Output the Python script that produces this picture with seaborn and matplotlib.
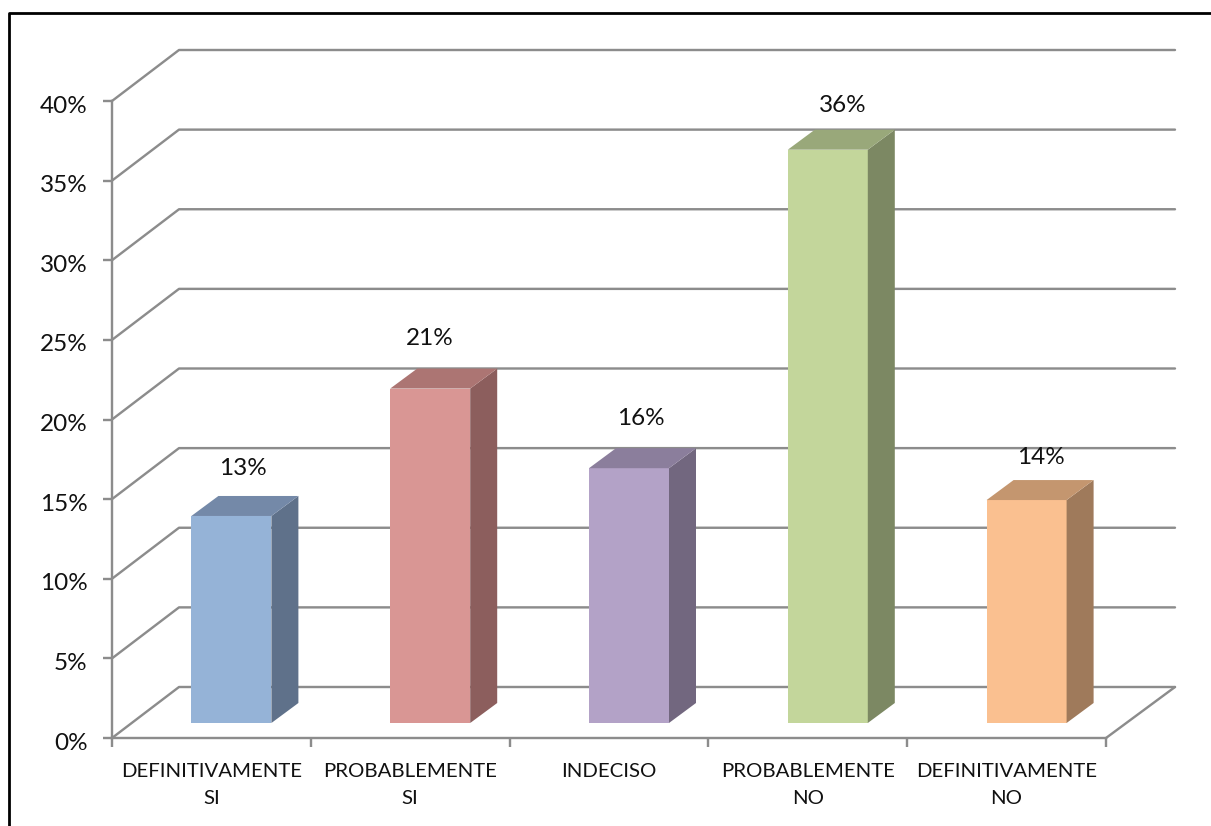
import matplotlib
matplotlib.use("Agg")
import matplotlib.pyplot as plt
from matplotlib.lines import Line2D
from matplotlib.patches import Polygon
from matplotlib.transforms import ScaledTranslation
import pandas as pd
import seaborn as sns

categories = ["DEFINITIVAMENTE\nSI", "PROBABLEMENTE\nSI", "INDECISO",
              "PROBABLEMENTE\nNO", "DEFINITIVAMENTE\nNO"]
values = [13, 21, 16, 36, 14]
front_colors = ["#95B3D7", "#D99694", "#B3A2C7", "#C3D69B", "#FAC090"]
side_colors = ["#5F718A", "#8C5E5D", "#72677F", "#7C8863", "#9F7A5B"]
top_colors = ["#7489A8", "#AC7573", "#8B7E9C", "#99A87A", "#C4966F"]
y_ticks = [0, 5, 10, 15, 20, 25, 30, 35, 40]

W, H = 1211, 826
L, R, B, T = 112, 1106, 738, 101
px_x = (R - L) / 5
px_y = (B - T) / 40
GRID = "#8C8C8C"

sns.set_theme(style="white")
plt.rcParams["font.family"] = ["Lato", "DejaVu Sans"]

fig = plt.figure(figsize=(W / 100, H / 100), dpi=100, facecolor="white")
ax = fig.add_axes([L / W, 1 - B / H, (R - L) / W, (B - T) / H])
ax.patch.set_alpha(0)

df = pd.DataFrame({"cat": categories, "val": values})
sns.barplot(data=df, x="cat", y="val", hue="cat", palette=front_colors, legend=False,
            width=80 / px_x, saturation=1, ax=ax, zorder=3, linewidth=0)
ax.set_xlim(-0.5, 4.5)
ax.set_ylim(0, 40)

# depth of the chart floor and of the bars
dx, dy = 67 / px_x, 51 / px_y
bx, by = 27 / px_x, 20 / px_y
shift_x, shift_y = 20 / px_x, 15 / px_y
x0, x1 = -0.5, 4.5
back_end = x1 + 69 / px_x
lw = 2.4 * 72 / 100

# walls: back gridlines and diagonals
for v in y_ticks:
    ax.plot([x0, x0 + dx, back_end], [v, v + dy, v + dy], color=GRID, lw=lw,
            clip_on=False, zorder=1, solid_joinstyle="round")
ax.plot([x1, back_end], [0, dy], color=GRID, lw=lw, clip_on=False, zorder=1)

# label offsets from the bar's centre/top, in pixels
label_dx = [12, 0, 12, 15, 14]
label_dy = [47, 50, 50, 44, 43]

bars = list(ax.patches)
for i, bar in enumerate(bars):
    bar.set_x(bar.get_x() + shift_x)
    bar.set_y(bar.get_y() + shift_y)
    bar.set_clip_on(False)
    xa, xb = bar.get_x(), bar.get_x() + bar.get_width()
    yb, yt = bar.get_y(), bar.get_y() + bar.get_height()
    ax.add_patch(Polygon([(xb, yb), (xb + bx, yb + by), (xb + bx, yt + by), (xb, yt)],
                         closed=True, fc=side_colors[i], ec="none", zorder=3, clip_on=False))
    ax.add_patch(Polygon([(xa, yt), (xa + bx, yt + by), (xb + bx, yt + by), (xb, yt)],
                         closed=True, fc=top_colors[i], ec="none", zorder=3, clip_on=False))
    ax.text((xa + xb) / 2 + label_dx[i] / px_x, yt + label_dy[i] / px_y, f"{values[i]}%",
            ha="center", va="center", fontsize=17.5, color="#111111", zorder=5, clip_on=False)

sns.despine(ax=ax, top=True, right=True)
for s in ("left", "bottom"):
    ax.spines[s].set_color(GRID)
    ax.spines[s].set_linewidth(lw)
    ax.spines[s].set_zorder(2)

ax.set_xlabel("")
ax.set_ylabel("")
ax.set_yticks(y_ticks)
ax.set_yticklabels([f"{v}%" for v in y_ticks], fontsize=17.5, color="#111111")
ax.tick_params(axis="y", length=6.5, width=lw, color=GRID, pad=11, left=True)
down = ScaledTranslation(0, -2.2 / 72, fig.dpi_scale_trans)
for lab in ax.get_yticklabels():
    lab.set_transform(lab.get_transform() + down)
ax.set_xticks(range(5))
ax.set_xticklabels(categories, fontsize=14.7, color="#111111", linespacing=1.7)
ax.set_xticks([x0 + k for k in range(6)], minor=True)
ax.tick_params(axis="x", which="major", length=0, pad=18)
ax.tick_params(axis="x", which="minor", length=6.5, width=lw, color=GRID, bottom=True)

# outer chart border, running off the right and bottom of the picture
fig.add_artist(Line2D([8.7 / W, 8.7 / W, 1], [0, 1 - 12.7 / H, 1 - 12.7 / H],
                      color="black", lw=2.0, transform=fig.transFigure))

fig.savefig("out.png", dpi=100, facecolor="white")
